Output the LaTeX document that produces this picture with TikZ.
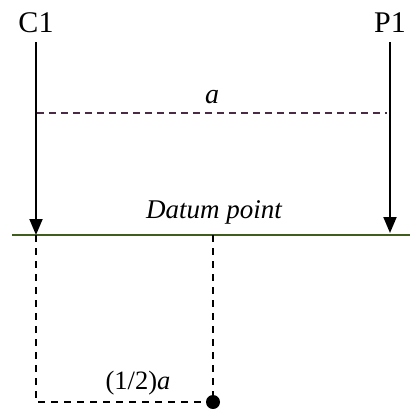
\documentclass[tikz,border=0pt]{standalone}
\usepackage{fontspec}
\setmainfont{Liberation Serif}
\usetikzlibrary{arrows.meta}
\definecolor{dashcol}{HTML}{4A2A45}
\definecolor{datumgreen}{HTML}{3F5E1E}
\begin{document}
\begin{tikzpicture}[x=1pt,y=-1pt,
  lbl/.style={inner sep=0pt,font=\fontsize{30}{32}\selectfont},
  force/.style={line width=1.9pt,-{Triangle[width=13pt,length=16pt]}},
  dim/.style={dash pattern=on 7pt off 5pt,line width=1.6pt,dashcol},
  dim2/.style={dash pattern=on 7pt off 6pt,line width=1.6pt,black}]
\useasboundingbox[fill=white] (0,0) rectangle (410,408);
\node[lbl] (c1) at (36,23) {C1};
\node[lbl] (p1) at (390,23) {P1};
\coordinate (c1top) at (36,42);
\coordinate (p1top) at (390,42);
\coordinate (c1base) at (36,235);
\coordinate (p1base) at (390,233);
\coordinate (aL) at (37,113);
\coordinate (aR) at (387,113);
\coordinate (datL) at (12,235);
\coordinate (datR) at (410,235);
\coordinate (mid) at (213,235);
\coordinate (c1bot) at (36,402);
\node[circle,fill=black,inner sep=0pt,minimum size=14pt] (dot) at (213,402) {};
\draw[force] (c1top) -- (c1base);
\draw[force] (p1top) -- (p1base);
\draw[dim] (aL) -- (aR);
\node[inner sep=0pt,font=\fontsize{28}{30}\selectfont\itshape] (alab) at (212,97) {a};
\draw[datumgreen,line width=2.6pt] (datL) -- (datR);
\node[inner sep=0pt,font=\fontsize{27}{29}\selectfont\itshape] (datum) at (214,212) {Datum point};
\draw[dim2] (c1base) -- (c1bot) -- (dot.center);
\draw[dim2] (mid) -- (dot.center);
\node[inner sep=0pt,font=\fontsize{26.5}{28}\selectfont] (half) at (138,383) {(1/2)\textit{a}};
\end{tikzpicture}
\end{document}
